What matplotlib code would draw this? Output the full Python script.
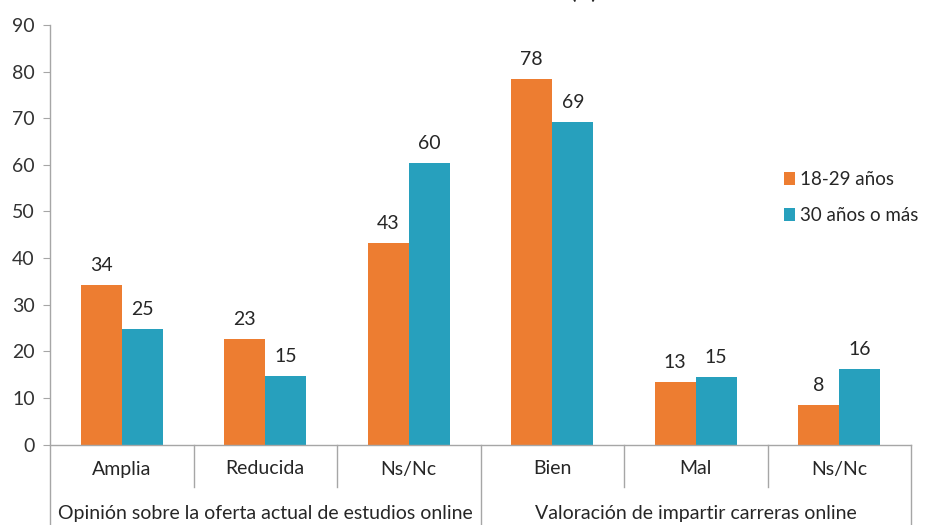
import matplotlib
matplotlib.use("Agg")
import matplotlib.pyplot as plt
import matplotlib.transforms as mtransforms
import numpy as np

plt.rcParams['font.family'] = ['Lato', 'DejaVu Sans']

categories = ["Amplia", "Reducida", "Ns/Nc", "Bien", "Mal", "Ns/Nc"]
groups = ["Opinión sobre la oferta actual de estudios online",
          "Valoración de impartir carreras online"]
group_sizes = [3, 3]
series_names = ["18-29 años", "30 años o más"]
young = [34.3, 22.6, 43.3, 78.4, 13.4, 8.4]
older = [24.8, 14.6, 60.4, 69.2, 14.4, 16.1]
young_labels = ["34", "23", "43", "78", "13", "8"]
older_labels = ["25", "15", "60", "69", "15", "16"]
yticks = [0, 10, 20, 30, 40, 50, 60, 70, 80, 90]

c_orange = "#ED7D31"
c_blue = "#27A0BD"
txt = "#262626"
axis_gray = "#A6A6A6"
fs = 14

W, H = 931, 525
fig = plt.figure(figsize=(W / 100, H / 100), dpi=100)
ax = fig.add_axes([50 / W, 1 - 444.5 / H, (911 - 50) / W, (444.5 - 25) / H])

x = np.arange(len(categories))
bw = 0.286
ax.bar(x - bw / 2, young, bw, color=c_orange, label=series_names[0], zorder=2)
ax.bar(x + bw / 2, older, bw, color=c_blue, label=series_names[1], zorder=2)

for xi, v, lab in zip(x, young, young_labels):
    ax.annotate(lab, (xi - bw / 2, v), xytext=(0, 8), textcoords="offset points",
                ha="center", va="bottom", fontsize=fs, color=txt)
for xi, v, lab in zip(x, older, older_labels):
    ax.annotate(lab, (xi + bw / 2, v), xytext=(0, 8), textcoords="offset points",
                ha="center", va="bottom", fontsize=fs, color=txt)

ax.set_xlim(-0.5, len(categories) - 0.5)
ax.set_ylim(0, 90)
ax.set_yticks(yticks)
ax.tick_params(axis="y", direction="out", length=5, color=axis_gray,
               labelsize=fs, labelcolor="#333333", pad=6)
ax.set_xticks([])
for s in ["top", "right"]:
    ax.spines[s].set_visible(False)
ax.spines["left"].set_visible(False)
ax.spines["bottom"].set_color(axis_gray)
ax.spines["bottom"].set_linewidth(1.0)

trans = mtransforms.blended_transform_factory(ax.transData, fig.transFigure)
y_top = 1 - 25 / H
y_zero = 1 - 444.5 / H
y_inner = 1 - 487 / H
y_bottom = 0.0

ax.plot([-0.5, -0.5], [y_bottom, y_top], transform=trans, color=axis_gray,
        lw=1.0, clip_on=False, zorder=3)

bounds = [0]
for g in group_sizes:
    bounds.append(bounds[-1] + g)
group_edges = set(bounds)
for b in range(1, len(categories) + 1):
    xe = b - 0.5
    yb = y_bottom if b in group_edges else y_inner
    ax.plot([xe, xe], [yb, y_zero], transform=trans, color=axis_gray,
            lw=1.0, clip_on=False, zorder=3)

for xi, c in zip(x, categories):
    ax.text(xi, 1 - 469 / H, c, transform=trans, ha="center", va="center",
            fontsize=fs, color=txt)
for gi, g in enumerate(groups):
    center = (bounds[gi] + bounds[gi + 1] - 1) / 2
    ax.text(center, 1 - 513 / H, g, transform=trans, ha="center", va="center",
            fontsize=fs, color=txt)

leg = fig.legend(loc="upper left", bbox_to_anchor=(767 / W, 1 - 154 / H),
                 frameon=False, fontsize=13.5, handlelength=0.6,
                 handleheight=0.7, handletextpad=0.25, labelspacing=1.0)
for t in leg.get_texts():
    t.set_color(txt)

fig.text(584 / W, 1 + 1.4 / H, "(%)", ha="center", va="baseline",
         fontsize=14, fontweight="bold", color=txt)

fig.savefig("out.png", dpi=100)
